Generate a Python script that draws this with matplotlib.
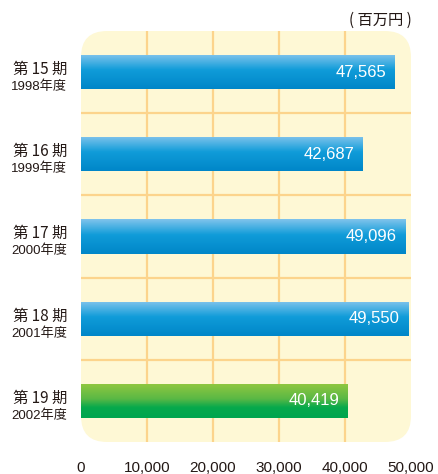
import matplotlib
matplotlib.use("Agg")
import matplotlib.pyplot as plt
import numpy as np
from matplotlib.patches import FancyBboxPatch
from matplotlib.colors import LinearSegmentedColormap
from matplotlib import font_manager

periods = ["第 15 期", "第 16 期", "第 17 期", "第 18 期", "第 19 期"]
years = ["1998年度", "1999年度", "2000年度", "2001年度", "2002年度"]
values = [47565, 42687, 49096, 49550, 40419]
xticks = [0, 10000, 20000, 30000, 40000, 50000]
xtick_labels = ["0", "10,000", "20,000", "30,000", "40,000", "50,000"]
unit_label = "( 百万円 )"

installed = {f.name for f in font_manager.fontManager.ttflist}
narrow = ["Liberation Sans Narrow"] if "Liberation Sans Narrow" in installed else []

W, H = 438, 474
fig = plt.figure(figsize=(W / 100, H / 100), dpi=100)
ax_l, ax_r, ax_t, ax_b = 81, 411, 31, 442
ax = fig.add_axes([ax_l / W, 1 - ax_b / H, (ax_r - ax_l) / W, (ax_b - ax_t) / H])
ax.set_xlim(0, 50000)
ax.set_ylim(4.5, -0.5)
for s in ax.spines.values():
    s.set_visible(False)
ax.patch.set_visible(False)

# rounded panel
wpx, hpx = ax_r - ax_l, ax_b - ax_t
r_px = 26
panel = FancyBboxPatch((0, 0), 1, 1, boxstyle=f"round,pad=0,rounding_size={r_px / wpx}",
                       mutation_aspect=wpx / hpx, transform=ax.transAxes,
                       facecolor="#fef8d5", edgecolor="none", zorder=0)
ax.add_patch(panel)

grid_c = "#fcd48c"
vl = ax.vlines(xticks[1:-1], -0.5, 4.5, colors=grid_c, lw=1.6, zorder=1)
vl.set_clip_path(panel)
hl = ax.hlines([0.5, 1.5, 2.5, 3.5], 0, 50000, colors=grid_c, lw=1.6, zorder=1)
hl.set_clip_path(panel)

blue = LinearSegmentedColormap.from_list("b", [(0, "#80c4ec"), (0.45, "#109cd9"), (1, "#0086c8")])
green = LinearSegmentedColormap.from_list("g", [(0, "#92c840"), (0.45, "#5ab845"), (0.7, "#06a94c"), (1, "#00a54f")])
grad = np.linspace(0, 1, 128).reshape(-1, 1)
bh = 34 / 82
ypos = np.arange(len(values))
bars = ax.barh(ypos, values, height=bh, color="none", edgecolor="none", zorder=2)
for i, (b, v) in enumerate(zip(bars, values)):
    cmap = green if i == len(values) - 1 else blue
    im = ax.imshow(grad, cmap=cmap, aspect="auto", origin="upper",
                   extent=(0, v, i + bh / 2, i - bh / 2), zorder=2, interpolation="bilinear")
    im.set_clip_path(b)
    ax.annotate(f"{v:,}", xy=(v, i), xytext=(-6, 0), textcoords="offset points",
                ha="right", va="center", color="white", fontsize=12,
                family=["Liberation Sans"], zorder=3)
    ax.annotate(periods[i], xy=(0, i), xytext=(-10, 2), textcoords="offset points",
                ha="right", va="center", fontsize=11, color="#231815",
                family=["Noto Sans CJK JP", "DejaVu Sans"], annotation_clip=False)
    ax.annotate(years[i], xy=(0, i), xytext=(-10, -10.5), textcoords="offset points",
                ha="right", va="center", fontsize=9.5, color="#231815",
                family=narrow + ["Liberation Sans", "Noto Sans CJK JP"], annotation_clip=False)

ax.set_xticks(xticks)
ax.set_xticklabels(xtick_labels, fontsize=11, color="#231815", family=["Liberation Sans"])
ax.tick_params(axis="x", length=0, pad=14)
ax.set_yticks([])
ax.set_xlim(0, 50000)
ax.set_ylim(4.5, -0.5)

fig.text(412 / W, 1 - 20 / H, unit_label, ha="right", va="center", fontsize=11,
         color="#231815", family=["Noto Sans CJK JP", "DejaVu Sans"])

fig.savefig("out.png", dpi=100)
